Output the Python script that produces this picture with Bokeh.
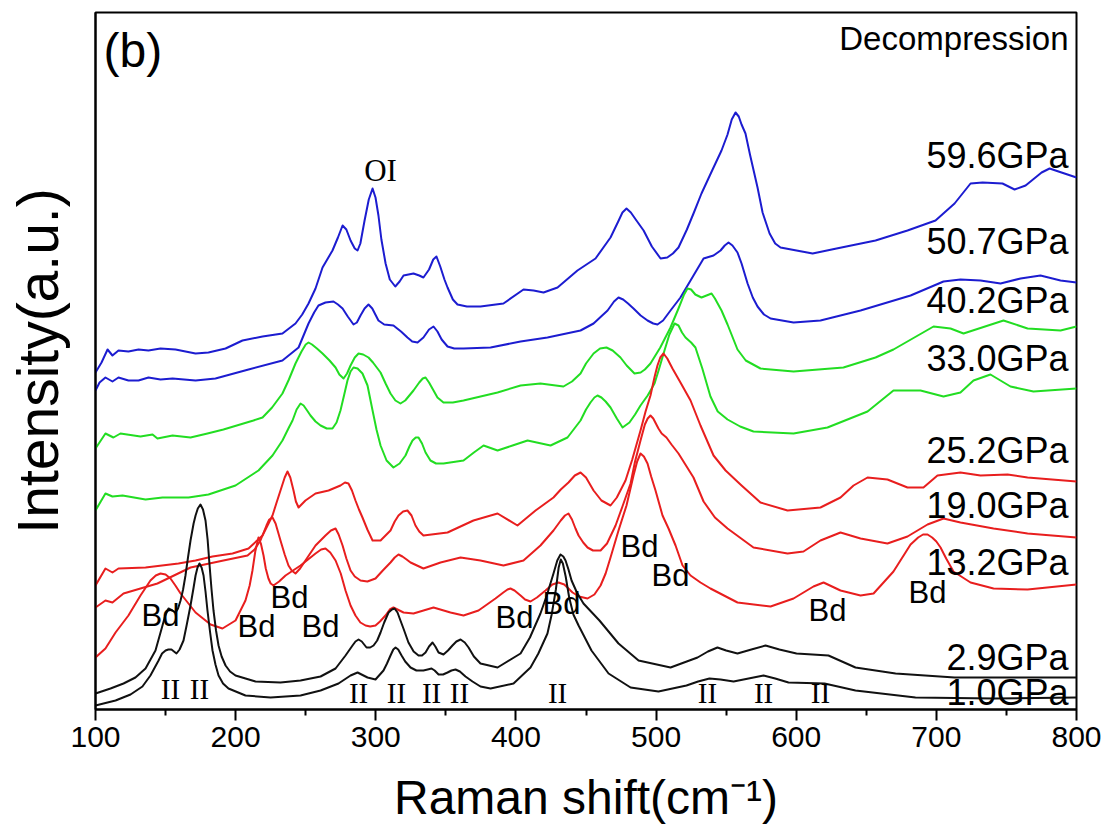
from bokeh.plotting import figure
from bokeh.models import Label, Range1d, FixedTicker
from bokeh.embed import file_html
from bokeh.resources import INLINE

# Raman spectra on decompression, stacked with vertical offsets.
# Each series: (Raman shift in cm^-1, offset intensity in a.u.)
P_59_6 = [(100, 337), (104.3, 347), (108.6, 360), (112.1, 354), (116.4, 359), (123.5, 358), (130.7, 360),
          (137.8, 359), (146.4, 361), (157.1, 360), (171.4, 356), (180.6, 357), (192.8, 361), (204.9, 369),
          (219.2, 373), (233.4, 376), (242.7, 386), (247.5, 395), (252.0, 406), (257.0, 421), (262.0, 442),
          (269.1, 459), (273.0, 472), (276.3, 484), (279.0, 480), (282.0, 469), (285.0, 461), (287.0, 459),
          (289.0, 466), (292.0, 489), (295.0, 510), (297.7, 521), (299.8, 512), (301.9, 494), (304.0, 470),
          (307.0, 446), (310.0, 430), (313.9, 423), (317.0, 428), (319.8, 434), (326.9, 436), (331.0, 434),
          (334.0, 432), (338.0, 440), (341.0, 450), (343.3, 453), (346.0, 443), (349.0, 430), (351.2, 422),
          (355.0, 410), (358.3, 405), (365.0, 403), (374.7, 403), (391.1, 406), (405.4, 420), (412.6, 419),
          (419.7, 417), (429.7, 422), (443.9, 439), (456.8, 451), (467.5, 472), (473.0, 488), (476.0, 497),
          (478.9, 501), (482.0, 497), (486.0, 489), (491.1, 479), (497.0, 463), (503.2, 451), (508.0, 452),
          (512.0, 456), (516.0, 462), (522.0, 480), (527.0, 497), (532.4, 516), (540.0, 539), (546.7, 559),
          (551.0, 575), (554.0, 590), (556.7, 597), (559.0, 593), (561.0, 585), (563.8, 576), (567.0, 555),
          (572.4, 522), (576.0, 497), (581.0, 476), (585.0, 466), (588.8, 462), (600.2, 459), (611.7, 456),
          (628.8, 461), (656.6, 469), (679.4, 479), (699.4, 489), (713.0, 506), (724.4, 526), (733.0, 527),
          (747.2, 526), (755.8, 520), (763.7, 524), (775.1, 537), (780.8, 541), (789.3, 537), (800, 532)]

P_50_7 = [(100, 319), (102.9, 327), (107.1, 332), (112.1, 328), (116.4, 332), (123.5, 329), (130.7, 329),
          (137.8, 332), (146.4, 330), (155.0, 331), (171.4, 329), (185.6, 331), (209.2, 340), (233.4, 349),
          (244.9, 362), (252.0, 386), (256.0, 397), (259.1, 404), (264.1, 407), (269.8, 408), (273.0, 405),
          (276.3, 401), (280.0, 393), (284.1, 385), (286.5, 387), (289.1, 394), (292.0, 401), (294.8, 405),
          (297.5, 401), (301.9, 389), (306.0, 385), (312.6, 384), (318.0, 378), (322.6, 372), (326.0, 368),
          (329.8, 367), (334.0, 372), (338.0, 380), (341.2, 383), (344.0, 378), (347.0, 370), (351.2, 363),
          (356.0, 361), (362.6, 361), (381.9, 362), (403.3, 368), (422.5, 372), (446.1, 379), (455.4, 386),
          (460.0, 392), (465.4, 399), (470.0, 408), (473.2, 412), (476.5, 410), (480.0, 406), (483.9, 401),
          (489.0, 394), (493.9, 389), (498.0, 386), (501.0, 385), (505.0, 389), (510.3, 399), (517.4, 412),
          (526.7, 434), (533.9, 451), (541.0, 454), (546.0, 459), (549.0, 464), (551.7, 467), (554.5, 464),
          (558.1, 457), (561.0, 446), (565.3, 426), (569.0, 412), (572.4, 403), (577.0, 395), (581.7, 391),
          (598.1, 387), (617.3, 389), (645.9, 399), (681.6, 414), (705.1, 428), (717.2, 430), (731.5, 429),
          (745.8, 426), (760.1, 431), (774.3, 434), (788.6, 429), (800, 427)]

P_40_2 = [(100, 261), (107.1, 276), (112.8, 272), (117.8, 276), (132.1, 273), (140.7, 275), (144.2, 271),
          (155.0, 274), (167.8, 272), (179.9, 276), (191.3, 280), (212.7, 289), (219.2, 292), (226.0, 302),
          (233.4, 316), (238.0, 330), (242.7, 346), (247.0, 358), (250.0, 365), (252.0, 367), (254.5, 365),
          (258.0, 361), (262.0, 356), (267.0, 349), (271.3, 342), (274.0, 335), (277.0, 331), (279.5, 336),
          (282.0, 344), (285.0, 352), (287.7, 356), (291.0, 355), (294.8, 352), (298.0, 347), (303.4, 337),
          (307.0, 326), (310.5, 316), (314.0, 309), (317.6, 306), (321.0, 309), (326.9, 319), (331.0, 327),
          (333.5, 331), (335.5, 332), (338.0, 327), (341.2, 319), (344.0, 312), (348.3, 307), (355.0, 307),
          (362.6, 309), (386.9, 317), (403.3, 324), (417.5, 326), (433.9, 323), (440.0, 328), (446.1, 336),
          (450.0, 346), (455.4, 356), (460.0, 361), (464.6, 362), (469.0, 359), (474.6, 352), (479.0, 344),
          (484.6, 336), (489.0, 337), (492.0, 340), (496.0, 346), (503.0, 362), (510.3, 382), (516.0, 401),
          (520.0, 415), (522.4, 421), (525.0, 420), (528.0, 415), (532.4, 412), (536.0, 414), (539.6, 416),
          (542.0, 411), (546.7, 399), (551.0, 385), (558.1, 360), (564.0, 349), (574.5, 341), (598.1, 338),
          (633.7, 342), (656.6, 352), (669.4, 360), (698.0, 383), (710.1, 381), (719.4, 376), (747.9, 389),
          (765.1, 381), (788.6, 379), (800, 383)]

P_33_0 = [(100, 199), (107.1, 216), (112.1, 213), (119.3, 214), (135.7, 210), (147.8, 212), (166.4, 212),
          (180.6, 215), (199.9, 224), (216.3, 239), (226.3, 254), (233.4, 269), (238.0, 282), (240.6, 289),
          (243.5, 300), (246.3, 306), (248.5, 304), (251.0, 299), (253.4, 294), (257.0, 288), (260.6, 284),
          (265.0, 281), (269.1, 281), (272.0, 287), (274.8, 299), (277.5, 315), (279.8, 329), (282.0, 338),
          (284.1, 342), (287.0, 341), (290.5, 336), (294.1, 324), (297.7, 299), (300.5, 280), (303.4, 264),
          (307.7, 249), (312.6, 242), (317.0, 246), (321.2, 254), (324.0, 263), (326.2, 269), (328.5, 272),
          (330.5, 272), (333.0, 266), (335.5, 257), (339.0, 249), (343.0, 246), (348.3, 246), (362.6, 249),
          (370.0, 257), (376.9, 264), (386.9, 259), (397.6, 264), (408.3, 269), (424.7, 264), (436.8, 272),
          (446.1, 289), (450.0, 300), (453.2, 307), (456.0, 312), (458.2, 314), (461.0, 312), (464.0, 308),
          (467.5, 302), (472.0, 291), (476.1, 282), (481.0, 287), (485.0, 295), (488.9, 304), (494.0, 314),
          (498.9, 326), (502.0, 340), (506.0, 359), (509.5, 375), (513.2, 386), (516.0, 384), (518.5, 377),
          (521.0, 372), (525.0, 367), (528.1, 362), (533.0, 341), (538.8, 313), (544.0, 298), (551.0, 290),
          (560.0, 283), (569.5, 278), (598.1, 276), (622.3, 282), (650.9, 298), (669.4, 319), (688.7, 319),
          (705.1, 313), (717.2, 317), (726.5, 329), (738.6, 335), (752.9, 323), (769.3, 318), (800, 321)]

P_25_2 = [(100, 124), (107.1, 141), (112.1, 137), (116.4, 141), (135.7, 142), (159.2, 146), (171.4, 149),
          (183.5, 153), (197.8, 156), (209.2, 161), (219.2, 174), (226.3, 194), (229.0, 206), (232.0, 219),
          (235.0, 232), (237.0, 238), (239.0, 232), (241.3, 219), (243.0, 208), (244.9, 202), (247.0, 205),
          (249.8, 209), (257.0, 216), (266.3, 219), (274.8, 224), (278.0, 227), (280.5, 226), (283.0, 219),
          (285.5, 209), (288.0, 200), (290.5, 192), (294.0, 180), (297.7, 169), (303.4, 169), (310.5, 179),
          (313.5, 188), (316.2, 194), (319.5, 198), (322.6, 199), (325.5, 194), (328.3, 184), (331.0, 178),
          (334.0, 174), (351.2, 177), (369.7, 189), (386.9, 196), (401.1, 184), (414.0, 199), (426.8, 212),
          (432.0, 220), (437.5, 227), (442.0, 234), (446.1, 237), (450.0, 232), (455.4, 219), (461.0, 209),
          (467.5, 204), (472.0, 212), (478.2, 229), (483.0, 250), (488.9, 279), (492.5, 298), (496.0, 314),
          (499.0, 333), (501.0, 344), (503.0, 352), (505.3, 356), (508.0, 351), (511.7, 341), (517.4, 327),
          (524.6, 309), (531.7, 284), (541.0, 254), (549.6, 239), (561.0, 224), (574.5, 207), (593.8, 199),
          (617.3, 202), (631.6, 212), (640.9, 224), (650.9, 232), (665.1, 230), (679.4, 222), (690.8, 222),
          (700.8, 234), (717.2, 237), (731.5, 234), (750.8, 235), (765.1, 232), (800, 228)]

P_19_0 = [(100, 102), (107.1, 109), (112.1, 107), (120.0, 116), (144.2, 126), (167.8, 142), (191.3, 149),
          (208.5, 154), (213.5, 160), (217.7, 169), (222.0, 184), (224.0, 190), (226.3, 192), (228.5, 186),
          (232.0, 169), (235.0, 155), (237.7, 144), (240.0, 139), (242.7, 136), (246.0, 141), (249.8, 149),
          (257.0, 164), (264.1, 174), (268.0, 179), (271.3, 181), (273.5, 175), (276.3, 164), (279.0, 151),
          (282.0, 139), (285.0, 133), (289.1, 129), (294.0, 128), (299.8, 131), (305.0, 139), (310.5, 147),
          (313.5, 152), (316.2, 155), (319.0, 153), (322.0, 150), (324.8, 147), (334.0, 141), (346.2, 147),
          (360.5, 152), (374.7, 149), (391.1, 144), (405.4, 149), (417.5, 164), (426.8, 179), (432.0, 189),
          (435.0, 194), (437.5, 196), (440.0, 190), (442.5, 181), (444.7, 174), (448.0, 167), (451.1, 162),
          (455.0, 159), (460.4, 159), (465.0, 166), (471.1, 184), (476.0, 203), (481.8, 226), (485.0, 248),
          (488.9, 269), (492.0, 285), (494.0, 291), (496.0, 294), (498.0, 291), (501.7, 281), (504.0, 276),
          (507.4, 272), (511.0, 265), (516.0, 256), (526.7, 232), (533.9, 208), (542.0, 192), (551.0, 181),
          (569.5, 162), (593.8, 156), (605.2, 158), (617.3, 169), (631.6, 177), (645.9, 171), (665.1, 166),
          (679.4, 173), (693.7, 185), (705.1, 191), (717.2, 187), (740.8, 181), (765.1, 176), (800, 172)]

P_13_2 = [(100, 52), (107.1, 61), (114.3, 77), (123.5, 94), (132.1, 114), (139.2, 129), (143.0, 134),
          (146.4, 136), (150.0, 135), (153.5, 131), (157.0, 124), (160.7, 116), (171.4, 97), (182.1, 85),
          (190.6, 81), (199.9, 89), (207.0, 109), (210.0, 124), (212.0, 139), (214.0, 158), (216.3, 172),
          (218.0, 166), (219.9, 154), (221.5, 141), (223.4, 131), (225.0, 126), (227.0, 124), (231.0, 128),
          (235.6, 134), (246.3, 144), (257.0, 156), (261.0, 160), (264.1, 161), (267.5, 157), (271.3, 149),
          (275.0, 136), (278.4, 119), (282.0, 104), (285.5, 94), (289.0, 87), (292.7, 84), (296.0, 83),
          (299.8, 84), (303.0, 88), (306.9, 94), (310.0, 100), (312.6, 102), (315.5, 100), (319.8, 97),
          (326.9, 96), (341.2, 102), (353.3, 97), (362.6, 94), (373.3, 99), (385.4, 111), (391.0, 117),
          (394.0, 120), (396.1, 121), (399.0, 119), (403.3, 114), (406.5, 110), (410.4, 108), (415.0, 112),
          (421.1, 119), (426.0, 125), (430.4, 127), (434.5, 125), (440.4, 117), (445.0, 113), (451.1, 111),
          (456.0, 115), (460.4, 124), (464.0, 136), (467.5, 152), (473.2, 179), (478.9, 204), (483.9, 234),
          (486.5, 248), (488.9, 256), (491.3, 253), (493.9, 246), (496.5, 233), (499.6, 219), (504.6, 194),
          (508.9, 181), (513.9, 164), (518.9, 144), (524.6, 134), (531.7, 127), (538.8, 121), (558.1, 107),
          (581.7, 103), (598.1, 111), (612.3, 123), (619.5, 127), (631.6, 119), (645.9, 114), (655.2, 116),
          (669.4, 138), (681.6, 165), (687.0, 172), (690.5, 175), (693.7, 175), (697.0, 172), (700.0, 168),
          (703.0, 162), (707.0, 151), (712.2, 138), (724.4, 127), (740.8, 121), (765.1, 120), (800, 125)]

P_2_9 = [(100, 16), (110.7, 21), (120.0, 26), (128.5, 32), (135.7, 41), (142.8, 59), (147.8, 84), (150.0, 95),
         (152.1, 101), (154.9, 99), (157.1, 97), (158.9, 101), (160.7, 109), (162.5, 120), (164.2, 134),
         (166.0, 152), (167.8, 169), (170.0, 186), (171.4, 194), (173.0, 201), (174.9, 205), (176.7, 200),
         (178.5, 189), (180.0, 170), (181.4, 144), (182.8, 120), (184.2, 99), (186.0, 79), (187.8, 64),
         (190.0, 53), (192.8, 44), (196.0, 38), (199.9, 34), (214.2, 28), (232.0, 27), (246.3, 29),
         (260.6, 33), (271.3, 41), (278.4, 54), (283.4, 64), (285.5, 68), (287.7, 70), (290.0, 68),
         (293.4, 62), (296.0, 62), (298.4, 64), (301.0, 69), (303.4, 77), (306.0, 87), (309.1, 97),
         (311.5, 100), (313.4, 101), (315.5, 97), (317.6, 89), (320.0, 80), (323.3, 67), (327.0, 58),
         (330.5, 54), (333.0, 54), (335.5, 57), (338.0, 63), (340.5, 67), (342.5, 63), (344.8, 57),
         (348.3, 55), (351.5, 59), (354.7, 64), (357.5, 68), (360.5, 70), (363.5, 67), (366.2, 62), (370.0, 53),
         (374.7, 46), (386.9, 42), (403.3, 56), (410.0, 72), (417.5, 96), (422.0, 114), (426.8, 136),
         (429.5, 149), (431.8, 155), (433.8, 153), (435.4, 149), (437.5, 140), (439.7, 129), (443.5, 117),
         (448.2, 106), (459.6, 89), (473.2, 66), (487.5, 49), (510.3, 42), (529.6, 52), (537.0, 58),
         (543.8, 62), (550.0, 59), (558.1, 56), (568.0, 60), (578.1, 64), (588.0, 60), (600.2, 56),
         (623.0, 54), (642.3, 42), (670.9, 36), (713.0, 32), (800, 32)]

P_1_0 = [(100, 4), (114.3, 9), (125.0, 15), (133.5, 23), (139.2, 34), (145.0, 49), (147.5, 56), (150.0, 59),
         (152.0, 60), (154.2, 60), (156.0, 58), (157.8, 56), (160.0, 60), (162.8, 69), (165.0, 84),
         (167.8, 104), (170.0, 122), (171.4, 134), (172.8, 142), (174.2, 146), (175.7, 142), (177.1, 134),
         (178.5, 118), (179.9, 99), (181.7, 78), (183.5, 59), (185.6, 45), (187.8, 34), (191.0, 26),
         (194.9, 21), (207.0, 14), (224.9, 12), (246.3, 14), (260.6, 19), (273.4, 26), (282.0, 34),
         (287.0, 37), (294.1, 32), (299.8, 30), (305.5, 39), (308.0, 46), (310.5, 54), (312.5, 60),
         (314.1, 62), (316.0, 60), (318.4, 54), (321.0, 48), (324.8, 42), (329.0, 39), (334.0, 39),
         (337.0, 40), (339.8, 41), (342.0, 39), (344.8, 35), (348.0, 35), (351.2, 37), (354.0, 39),
         (356.9, 40), (360.0, 38), (364.0, 33), (369.0, 28), (374.7, 23), (381.9, 21), (398.3, 26),
         (410.4, 42), (416.0, 56), (422.5, 76), (425.5, 95), (428.5, 120), (430.5, 142), (432.0, 150),
         (433.5, 146), (435.5, 133), (438.0, 112), (441.0, 95), (444.7, 84), (453.9, 59), (466.1, 36),
         (481.8, 22), (501.7, 18), (521.7, 24), (530.0, 28), (538.1, 31), (546.0, 30), (555.3, 28),
         (566.0, 31), (576.7, 34), (585.0, 31), (594.5, 27), (620.2, 26), (642.3, 19), (685.1, 12),
         (741.5, 11), (800, 12)]

BLUE, GREEN, RED, BLACK = "#1c1cd0", "#22dd22", "#e81e1e", "#111111"

SERIES = [
    ("59.6GPa", P_59_6, BLUE, 554),
    ("50.7GPa", P_50_7, BLUE, 468),
    ("40.2GPa", P_40_2, GREEN, 409),
    ("33.0GPa", P_33_0, GREEN, 351),
    ("25.2GPa", P_25_2, RED, 259),
    ("19.0GPa", P_19_0, RED, 204),
    ("13.2GPa", P_13_2, RED, 147),
    ("2.9GPa", P_2_9, BLACK, 52),
    ("1.0GPa", P_1_0, BLACK, 17),
]

# Peak assignments: phase II, Bd and OI
II_POS = [153.5, 174.2, 287.7, 314.8, 339.8, 359.7, 429.7, 536.7, 576.7, 617.3]
II_Y = [21, 21, 17, 17, 17, 17, 17, 17, 17, 17]
BD_POS = [146.4, 214.9, 238.4, 260.6, 399.0, 432.5, 488.2, 510.3, 622.3, 693.7]
BD_Y = [94, 83, 112, 83, 92, 106, 163, 134, 99, 117]
OI_POS, OI_Y = 303.4, 539

SANS = "Liberation Sans"
SERIF = "Liberation Serif"

p = figure(width=1107, height=830, x_range=Range1d(100, 800), y_range=Range1d(0, 697),
           output_backend="svg", toolbar_location=None,
           min_border_left=95, min_border_right=31, min_border_top=12, min_border_bottom=121)
p.background_fill_color = "white"
p.border_fill_color = "white"
p.outline_line_color = "black"
p.outline_line_width = 2
p.xgrid.visible = False
p.ygrid.visible = False

ax = p.xaxis[0]
ax.ticker = FixedTicker(ticks=[100, 200, 300, 400, 500, 600, 700, 800],
                        minor_ticks=[150, 250, 350, 450, 550, 650, 750])
ax.axis_line_width = 2
ax.major_tick_line_width = 2
ax.minor_tick_line_width = 2
ax.major_tick_in = 0
ax.major_tick_out = 11
ax.minor_tick_in = 0
ax.minor_tick_out = 6
ax.major_label_standoff = 6
ax.major_label_text_font = SANS
ax.major_label_text_font_size = "30px"
ax.major_label_text_color = "black"
ax.axis_label = "Raman shift(cm\u207b\u00b9)"
ax.axis_label_text_font = SANS
ax.axis_label_text_font_size = "48px"
ax.axis_label_text_font_style = "normal"
ax.axis_label_text_color = "black"
ax.axis_label_standoff = 21

ay = p.yaxis[0]
ay.ticker = FixedTicker(ticks=[])
ay.axis_line_width = 2
ay.major_tick_line_color = None
ay.minor_tick_line_color = None
ay.axis_label = "Intensity(a.u.)"
ay.axis_label_text_font = SANS
ay.axis_label_text_font_size = "57px"
ay.axis_label_text_font_style = "normal"
ay.axis_label_text_color = "black"
ay.axis_label_standoff = 26

for name, pts, color, ly in SERIES:
    xs = [a for a, _ in pts]
    ys = [b for _, b in pts]
    p.line(xs, ys, line_color=color, line_width=2, line_join="round")
    p.add_layout(Label(x=794.3, y=ly, text=name, text_align="right", text_baseline="middle",
                       text_font=SANS, text_font_size="36px", text_color="black"))

for xv, yv in zip(II_POS, II_Y):
    p.add_layout(Label(x=xv, y=yv, text="II", text_align="center", text_baseline="middle",
                       text_font=SERIF, text_font_size="29px", text_color="black"))
for xv, yv in zip(BD_POS, BD_Y):
    p.add_layout(Label(x=xv, y=yv, text="Bd", text_align="center", text_baseline="middle",
                       text_font=SANS, text_font_size="31px", text_color="black"))
p.add_layout(Label(x=OI_POS, y=OI_Y, text="OI", text_align="center", text_baseline="middle",
                   text_font=SERIF, text_font_size="31px", text_color="black"))

p.add_layout(Label(x=105.7, y=659, text="(b)", text_align="left", text_baseline="middle",
                   text_font=SANS, text_font_size="48px", text_color="black"))
p.add_layout(Label(x=794.3, y=671, text="Decompression", text_align="right", text_baseline="middle",
                   text_font=SANS, text_font_size="33px", text_color="black"))

open("out.html", "w").write(file_html(p, INLINE))
